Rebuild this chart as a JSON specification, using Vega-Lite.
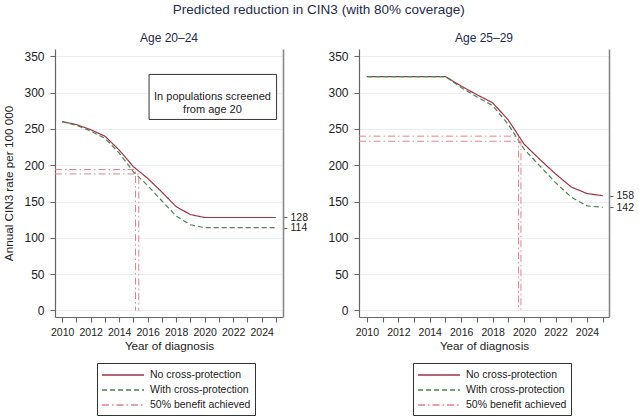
{
  "$schema": "https://vega.github.io/schema/vega-lite/v6.json",
  "background": "white",
  "padding": {"left": 3, "top": 2, "right": 0, "bottom": 0},
  "title": {"text": "Predicted reduction in CIN3 (with 80% coverage)", "anchor": "middle", "fontSize": 13.5, "fontWeight": "normal", "color": "#1f2b4d", "font": "Liberation Sans", "offset": 16},
  "datasets": {
    "curves": [
      {"panel":"Age 20–24","series":"No cross-protection","path":"n","year":2010,"rate":260,"ord":0},
      {"panel":"Age 20–24","series":"No cross-protection","path":"n","year":2011,"rate":256,"ord":1},
      {"panel":"Age 20–24","series":"No cross-protection","path":"n","year":2012,"rate":249,"ord":2},
      {"panel":"Age 20–24","series":"No cross-protection","path":"n","year":2013,"rate":240,"ord":3},
      {"panel":"Age 20–24","series":"No cross-protection","path":"n","year":2014,"rate":221,"ord":4},
      {"panel":"Age 20–24","series":"No cross-protection","path":"n","year":2015,"rate":198,"ord":5},
      {"panel":"Age 20–24","series":"No cross-protection","path":"n","year":2016,"rate":182,"ord":6},
      {"panel":"Age 20–24","series":"No cross-protection","path":"n","year":2017,"rate":163,"ord":7},
      {"panel":"Age 20–24","series":"No cross-protection","path":"n","year":2018,"rate":143,"ord":8},
      {"panel":"Age 20–24","series":"No cross-protection","path":"n","year":2019,"rate":132,"ord":9},
      {"panel":"Age 20–24","series":"No cross-protection","path":"n","year":2020,"rate":128,"ord":10},
      {"panel":"Age 20–24","series":"No cross-protection","path":"n","year":2021,"rate":128,"ord":11},
      {"panel":"Age 20–24","series":"No cross-protection","path":"n","year":2022,"rate":128,"ord":12},
      {"panel":"Age 20–24","series":"No cross-protection","path":"n","year":2023,"rate":128,"ord":13},
      {"panel":"Age 20–24","series":"No cross-protection","path":"n","year":2024,"rate":128,"ord":14},
      {"panel":"Age 20–24","series":"No cross-protection","path":"n","year":2025,"rate":128,"ord":15},
      {"panel":"Age 20–24","series":"With cross-protection","path":"w","year":2010,"rate":260,"ord":0},
      {"panel":"Age 20–24","series":"With cross-protection","path":"w","year":2011,"rate":255,"ord":1},
      {"panel":"Age 20–24","series":"With cross-protection","path":"w","year":2012,"rate":247,"ord":2},
      {"panel":"Age 20–24","series":"With cross-protection","path":"w","year":2013,"rate":237,"ord":3},
      {"panel":"Age 20–24","series":"With cross-protection","path":"w","year":2014,"rate":217,"ord":4},
      {"panel":"Age 20–24","series":"With cross-protection","path":"w","year":2015,"rate":191,"ord":5},
      {"panel":"Age 20–24","series":"With cross-protection","path":"w","year":2016,"rate":172,"ord":6},
      {"panel":"Age 20–24","series":"With cross-protection","path":"w","year":2017,"rate":151,"ord":7},
      {"panel":"Age 20–24","series":"With cross-protection","path":"w","year":2018,"rate":130,"ord":8},
      {"panel":"Age 20–24","series":"With cross-protection","path":"w","year":2019,"rate":118,"ord":9},
      {"panel":"Age 20–24","series":"With cross-protection","path":"w","year":2020,"rate":114,"ord":10},
      {"panel":"Age 20–24","series":"With cross-protection","path":"w","year":2021,"rate":114,"ord":11},
      {"panel":"Age 20–24","series":"With cross-protection","path":"w","year":2022,"rate":114,"ord":12},
      {"panel":"Age 20–24","series":"With cross-protection","path":"w","year":2023,"rate":114,"ord":13},
      {"panel":"Age 20–24","series":"With cross-protection","path":"w","year":2024,"rate":114,"ord":14},
      {"panel":"Age 20–24","series":"With cross-protection","path":"w","year":2025,"rate":114,"ord":15},
      {"panel":"Age 20–24","series":"50% benefit achieved","path":"b1","year":2009.5,"rate":194,"ord":0},
      {"panel":"Age 20–24","series":"50% benefit achieved","path":"b1","year":2015.15,"rate":194,"ord":1},
      {"panel":"Age 20–24","series":"50% benefit achieved","path":"b1","year":2015.15,"rate":0,"ord":2},
      {"panel":"Age 20–24","series":"50% benefit achieved","path":"b2","year":2009.5,"rate":188,"ord":0},
      {"panel":"Age 20–24","series":"50% benefit achieved","path":"b2","year":2015.38,"rate":188,"ord":1},
      {"panel":"Age 20–24","series":"50% benefit achieved","path":"b2","year":2015.38,"rate":0,"ord":2},
      {"panel":"Age 25–29","series":"No cross-protection","path":"n","year":2010,"rate":322,"ord":0},
      {"panel":"Age 25–29","series":"No cross-protection","path":"n","year":2011,"rate":322,"ord":1},
      {"panel":"Age 25–29","series":"No cross-protection","path":"n","year":2012,"rate":322,"ord":2},
      {"panel":"Age 25–29","series":"No cross-protection","path":"n","year":2013,"rate":322,"ord":3},
      {"panel":"Age 25–29","series":"No cross-protection","path":"n","year":2014,"rate":322,"ord":4},
      {"panel":"Age 25–29","series":"No cross-protection","path":"n","year":2015,"rate":322,"ord":5},
      {"panel":"Age 25–29","series":"No cross-protection","path":"n","year":2016,"rate":309,"ord":6},
      {"panel":"Age 25–29","series":"No cross-protection","path":"n","year":2017,"rate":297,"ord":7},
      {"panel":"Age 25–29","series":"No cross-protection","path":"n","year":2018,"rate":286,"ord":8},
      {"panel":"Age 25–29","series":"No cross-protection","path":"n","year":2019,"rate":262,"ord":9},
      {"panel":"Age 25–29","series":"No cross-protection","path":"n","year":2020,"rate":229,"ord":10},
      {"panel":"Age 25–29","series":"No cross-protection","path":"n","year":2021,"rate":208,"ord":11},
      {"panel":"Age 25–29","series":"No cross-protection","path":"n","year":2022,"rate":188,"ord":12},
      {"panel":"Age 25–29","series":"No cross-protection","path":"n","year":2023,"rate":170,"ord":13},
      {"panel":"Age 25–29","series":"No cross-protection","path":"n","year":2024,"rate":161,"ord":14},
      {"panel":"Age 25–29","series":"No cross-protection","path":"n","year":2025,"rate":158,"ord":15},
      {"panel":"Age 25–29","series":"With cross-protection","path":"w","year":2010,"rate":322,"ord":0},
      {"panel":"Age 25–29","series":"With cross-protection","path":"w","year":2011,"rate":322,"ord":1},
      {"panel":"Age 25–29","series":"With cross-protection","path":"w","year":2012,"rate":322,"ord":2},
      {"panel":"Age 25–29","series":"With cross-protection","path":"w","year":2013,"rate":322,"ord":3},
      {"panel":"Age 25–29","series":"With cross-protection","path":"w","year":2014,"rate":322,"ord":4},
      {"panel":"Age 25–29","series":"With cross-protection","path":"w","year":2015,"rate":322,"ord":5},
      {"panel":"Age 25–29","series":"With cross-protection","path":"w","year":2016,"rate":307,"ord":6},
      {"panel":"Age 25–29","series":"With cross-protection","path":"w","year":2017,"rate":294,"ord":7},
      {"panel":"Age 25–29","series":"With cross-protection","path":"w","year":2018,"rate":282,"ord":8},
      {"panel":"Age 25–29","series":"With cross-protection","path":"w","year":2019,"rate":256,"ord":9},
      {"panel":"Age 25–29","series":"With cross-protection","path":"w","year":2020,"rate":222,"ord":10},
      {"panel":"Age 25–29","series":"With cross-protection","path":"w","year":2021,"rate":199,"ord":11},
      {"panel":"Age 25–29","series":"With cross-protection","path":"w","year":2022,"rate":176,"ord":12},
      {"panel":"Age 25–29","series":"With cross-protection","path":"w","year":2023,"rate":156,"ord":13},
      {"panel":"Age 25–29","series":"With cross-protection","path":"w","year":2024,"rate":144,"ord":14},
      {"panel":"Age 25–29","series":"With cross-protection","path":"w","year":2025,"rate":142,"ord":15},
      {"panel":"Age 25–29","series":"50% benefit achieved","path":"b1","year":2009.5,"rate":240,"ord":0},
      {"panel":"Age 25–29","series":"50% benefit achieved","path":"b1","year":2019.65,"rate":240,"ord":1},
      {"panel":"Age 25–29","series":"50% benefit achieved","path":"b1","year":2019.65,"rate":0,"ord":2},
      {"panel":"Age 25–29","series":"50% benefit achieved","path":"b2","year":2009.5,"rate":233,"ord":0},
      {"panel":"Age 25–29","series":"50% benefit achieved","path":"b2","year":2019.8,"rate":233,"ord":1},
      {"panel":"Age 25–29","series":"50% benefit achieved","path":"b2","year":2019.8,"rate":0,"ord":2}
    ]
  },
  "spacing": 19,
  "hconcat": [
    {
      "width": 228, "height": 268,
      "title": {"text": "Age 20–24"},
      "data": {"name": "curves"},
      "transform": [{"filter": "datum.panel === 'Age 20–24'"}],
      "layer": [
        {
          "transform": [{"filter": "datum.series !== '50% benefit achieved'"}],
          "mark": {"type": "line", "strokeWidth": 1.2},
          "encoding": {
            "x": {"field": "year", "type": "quantitative", "scale": {"domain": [2009.5, 2025.5], "nice": false, "zero": false},
                  "axis": {"values": [2010,2011,2012,2013,2014,2015,2016,2017,2018,2019,2020,2021,2022,2023,2024,2025], "labelExpr": "datum.value % 2 === 0 ? datum.label : ''", "format": "d", "grid": false, "title": "Year of diagnosis", "labelFontSize": 10.5, "titleFontSize": 11.7, "labelPadding": 5, "titlePadding": 3, "labelOverlap": false}},
            "y": {"field": "rate", "type": "quantitative", "scale": {"domain": [-9, 360], "nice": false, "zero": false},
                  "axis": {"values": [0,50,100,150,200,250,300,350], "grid": true, "title": "Annual CIN3 rate per 100 000", "labelFontSize": 12, "titleFontSize": 11.7, "labelPadding": 6, "titlePadding": 9}},
            "color": {"field": "series", "type": "nominal", "title": null,
                      "scale": {"domain": ["No cross-protection", "With cross-protection", "50% benefit achieved"], "range": ["#9e3347", "#4f8353", "#e5808f"]},
                      "legend": {"legendX": 42, "legendY": 314}},
            "strokeDash": {"field": "series", "type": "nominal", "title": null,
                      "scale": {"domain": ["No cross-protection", "With cross-protection", "50% benefit achieved"], "range": [[1,0], [5,3], [7,3,1.5,3]]},
                      "legend": {"legendX": 42, "legendY": 314}},
            "detail": {"field": "path"},
            "order": {"field": "ord", "type": "quantitative"}
          }
        },
        {
          "transform": [{"filter": "datum.series === '50% benefit achieved'"}],
          "mark": {"type": "line", "strokeWidth": 1},
          "encoding": {
            "x": {"field": "year", "type": "quantitative", "scale": {"domain": [2009.5, 2025.5], "nice": false, "zero": false},
                  "axis": {"values": [2010,2011,2012,2013,2014,2015,2016,2017,2018,2019,2020,2021,2022,2023,2024,2025], "labelExpr": "datum.value % 2 === 0 ? datum.label : ''", "format": "d", "grid": false, "title": "Year of diagnosis", "labelFontSize": 10.5, "titleFontSize": 11.7, "labelPadding": 5, "titlePadding": 3, "labelOverlap": false}},
            "y": {"field": "rate", "type": "quantitative", "scale": {"domain": [-9, 360], "nice": false, "zero": false},
                  "axis": {"orient": "right", "values": [128, 114], "grid": false, "title": null, "labelFontSize": 10.5, "labelPadding": 3, "tickSize": 4, "labelOverlap": false, "domainColor": "#888", "domainWidth": 1.6}},
            "color": {"field": "series", "type": "nominal", "title": null},
            "strokeDash": {"field": "series", "type": "nominal", "title": null},
            "detail": {"field": "path"},
            "order": {"field": "ord", "type": "quantitative"}
          }
        },
        {
          "data": {"values": [{}]},
          "mark": {"type": "rect", "fill": "white", "stroke": "#333", "strokeWidth": 1},
          "encoding": {
            "x": {"datum": 2016.1, "type": "quantitative",
                  "axis": {"values": [2010,2011,2012,2013,2014,2015,2016,2017,2018,2019,2020,2021,2022,2023,2024,2025], "labelExpr": "datum.value % 2 === 0 ? datum.label : ''", "format": "d", "grid": false, "title": "Year of diagnosis", "labelFontSize": 10.5, "titleFontSize": 11.7, "labelPadding": 5, "titlePadding": 3, "labelOverlap": false}},
            "x2": {"datum": 2025.05},
            "y": {"datum": 325, "type": "quantitative", "axis": null},
            "y2": {"datum": 263}
          }
        },
        {
          "data": {"values": [{}]},
          "mark": {"type": "text", "fontSize": 11, "font": "Liberation Sans", "color": "#222", "align": "center", "baseline": "middle", "lineHeight": 13},
          "encoding": {
            "x": {"datum": 2020.55, "type": "quantitative",
                  "axis": {"values": [2010,2011,2012,2013,2014,2015,2016,2017,2018,2019,2020,2021,2022,2023,2024,2025], "labelExpr": "datum.value % 2 === 0 ? datum.label : ''", "format": "d", "grid": false, "title": "Year of diagnosis", "labelFontSize": 10.5, "titleFontSize": 11.7, "labelPadding": 5, "titlePadding": 3, "labelOverlap": false}},
            "y": {"datum": 294, "type": "quantitative", "axis": null},
            "text": {"value": ["In populations screened", "from age 20"]}
          }
        }
      ],
      "resolve": {"axis": {"y": "independent"}}
    },
    {
      "width": 250, "height": 268,
      "title": {"text": "Age 25–29"},
      "data": {"name": "curves"},
      "transform": [{"filter": "datum.panel === 'Age 25–29'"}],
      "layer": [
        {
          "transform": [{"filter": "datum.series !== '50% benefit achieved'"}],
          "mark": {"type": "line", "strokeWidth": 1.2},
          "encoding": {
            "x": {"field": "year", "type": "quantitative", "scale": {"domain": [2009.5, 2025.4], "nice": false, "zero": false},
                  "axis": {"values": [2010,2011,2012,2013,2014,2015,2016,2017,2018,2019,2020,2021,2022,2023,2024,2025], "labelExpr": "datum.value % 2 === 0 ? datum.label : ''", "format": "d", "grid": false, "title": "Year of diagnosis", "labelFontSize": 10.5, "titleFontSize": 11.7, "labelPadding": 5, "titlePadding": 3, "labelOverlap": false}},
            "y": {"field": "rate", "type": "quantitative", "scale": {"domain": [-9, 360], "nice": false, "zero": false},
                  "axis": {"values": [0,50,100,150,200,250,300,350], "grid": true, "title": null, "labelFontSize": 12, "labelPadding": 6}},
            "color": {"field": "series", "type": "nominal", "title": null,
                      "scale": {"domain": ["No cross-protection", "With cross-protection", "50% benefit achieved"], "range": ["#9e3347", "#4f8353", "#e5808f"]},
                      "legend": {"legendX": 54, "legendY": 314}},
            "strokeDash": {"field": "series", "type": "nominal", "title": null,
                      "scale": {"domain": ["No cross-protection", "With cross-protection", "50% benefit achieved"], "range": [[1,0], [5,3], [7,3,1.5,3]]},
                      "legend": {"legendX": 54, "legendY": 314}},
            "detail": {"field": "path"},
            "order": {"field": "ord", "type": "quantitative"}
          }
        },
        {
          "transform": [{"filter": "datum.series === '50% benefit achieved'"}],
          "mark": {"type": "line", "strokeWidth": 1},
          "encoding": {
            "x": {"field": "year", "type": "quantitative", "scale": {"domain": [2009.5, 2025.4], "nice": false, "zero": false},
                  "axis": {"values": [2010,2011,2012,2013,2014,2015,2016,2017,2018,2019,2020,2021,2022,2023,2024,2025], "labelExpr": "datum.value % 2 === 0 ? datum.label : ''", "format": "d", "grid": false, "title": "Year of diagnosis", "labelFontSize": 10.5, "titleFontSize": 11.7, "labelPadding": 5, "titlePadding": 3, "labelOverlap": false}},
            "y": {"field": "rate", "type": "quantitative", "scale": {"domain": [-9, 360], "nice": false, "zero": false},
                  "axis": {"orient": "right", "values": [158, 142], "grid": false, "title": null, "labelFontSize": 10.5, "labelPadding": 3, "tickSize": 4, "labelOverlap": false, "domainColor": "#888", "domainWidth": 1.6}},
            "color": {"field": "series", "type": "nominal", "title": null},
            "strokeDash": {"field": "series", "type": "nominal", "title": null},
            "detail": {"field": "path"},
            "order": {"field": "ord", "type": "quantitative"}
          }
        }
      ],
      "resolve": {"axis": {"y": "independent"}}
    }
  ],
  "resolve": {"scale": {"color": "independent", "strokeDash": "independent"}, "legend": {"color": "independent", "strokeDash": "independent"}},
  "config": {
    "view": {"stroke": null},
    "font": "Liberation Sans",
    "title": {"fontSize": 12, "fontWeight": "normal", "color": "#1f2b4d", "font": "Liberation Sans", "offset": 4},
    "axis": {"domainColor": "#666", "tickColor": "#666", "domainWidth": 1.2, "tickWidth": 1.1, "tickSize": 5, "labelFont": "Liberation Sans", "titleFont": "Liberation Sans", "labelColor": "#222", "titleColor": "#222", "titleFontWeight": "normal", "gridColor": "#ebeff3", "gridWidth": 1, "labelBound": false},
    "legend": {"orient": "none", "direction": "vertical", "strokeColor": "#333", "fillColor": "white", "padding": 4, "symbolType": "M-3,0H3", "symbolSize": 196, "symbolStrokeWidth": 1.3, "symbolOffset": 14, "labelOffset": 19, "labelFontSize": 10.5, "labelFont": "Liberation Sans", "labelColor": "#222", "rowPadding": 1, "labelLimit": 300}
  }
}
